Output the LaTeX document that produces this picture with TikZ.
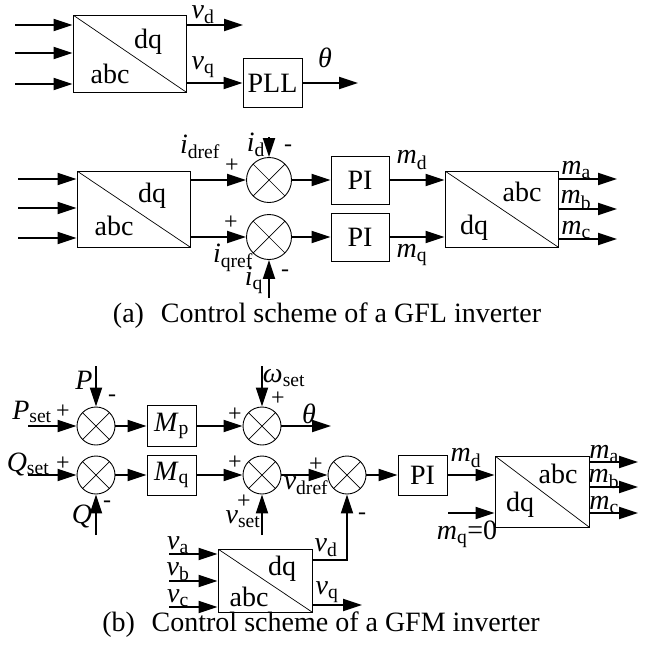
\documentclass[tikz,border=0pt]{standalone}
\usepackage{fontspec}
\setmainfont{Liberation Serif}
\usetikzlibrary{arrows.meta,positioning}
\newcommand{\varsub}[2]{\textit{#1}\textsubscript{#2}}

\begin{document}
\begin{tikzpicture}[x=1pt,y=-1pt,
	font=\fontsize{28}{30}\selectfont,
	sig/.style={line width=2pt,-{Triangle[length=19pt,width=12pt]}},
	blk/.style={draw,line width=0.9pt,inner sep=0pt},
	conv/.style={blk,path picture={\draw[line width=0.7pt] (path picture bounding box.north west) -- (path picture bounding box.south east);}},
	summer/.style={circle,draw,line width=0.9pt,inner sep=0pt,minimum size=#1,
		path picture={\draw[line width=0.7pt] (path picture bounding box.north west) -- (path picture bounding box.south east)
			(path picture bounding box.north east) -- (path picture bounding box.south west);}},
	sgn/.style={inner sep=0pt,font=\fontsize{24}{26}\selectfont}]
	\useasboundingbox (0,0) rectangle (650,649);
	
	% (a) TOP ROW: PLL
	
	\node [conv,minimum width=113pt,minimum height=77pt] at (129.5,53.5) (c1) {};
	\node at (148,42) (c1dq) {dq};
	\node at (110,74) (c1abc) {abc};
	\foreach \y [count=\i] in {25,53,84} {
		\coordinate (ina\i) at (15,\y);
		\draw [sig] (ina\i) -- (ina\i -| c1.west);
	}
	
	\coordinate (vdend) at (243,25);
	\draw [sig] (vdend -| c1.east) -- (vdend);
	\node at (203,15) (vdlab) {\varsub{v}{d}};
	
	\node [blk,minimum width=59pt,minimum height=49pt] at (272.5,83) (pll) {PLL};
	\draw [sig] (pll.west -| c1.east) -- (pll.west);
	\node at (203,67) (vqlab) {\varsub{v}{q}};
	
	\coordinate (thaend) at (358,83);
	\draw [sig] (pll) -- (thaend);
	\node at (325,58) (thalab) {\textit{θ}};
	
	% (a) CURRENT LOOP
	
	\node [conv,minimum width=113pt,minimum height=76pt] at (133.5,209) (c2) {};
	\node at (152,196) (c2dq) {dq};
	\node at (114,226) (c2abc) {abc};
	\foreach \y [count=\i] in {179,208,238} {
		\coordinate (inb\i) at (18,\y);
		\draw [sig] (inb\i) -- (inb\i -| c2.west);
	}
	
	\node [summer=45pt] at (269,180) (s1) {};
	\node [summer=45pt] at (269,237) (s2) {};
	\draw [sig] (c2.east |- s1) -- (s1);
	\draw [sig] (c2.east |- s2) -- (s2);
	
	\coordinate (idtop) at (269,137);
	\draw [sig] (idtop) -- (s1);
	\coordinate (iqbot) at (269,298);
	\draw [sig] (iqbot) -- (s2);
	
	\node at (200,147) (idreflab) {\varsub{i}{dref}};
	\node at (256,145) (idlab) {\varsub{i}{d}};
	\node [sgn] at (232,166) {+};
	\node [sgn] at (288,148) {-};
	\node at (233,258) (iqreflab) {\varsub{i}{qref}};
	\node at (254,280) (iqlab) {\varsub{i}{q}};
	\node [sgn] at (231,223) {+};
	\node [sgn] at (285,273) {-};
	
	\node [blk,minimum width=58pt,minimum height=48pt] at (360,180) (pi1) {PI};
	\node [blk,minimum width=58pt,minimum height=48pt] at (360,237) (pi2) {PI};
	\draw [sig] (s1) -- (pi1);
	\draw [sig] (s2) -- (pi2);
	
	\node [conv,minimum width=113pt,minimum height=76pt] at (501.5,209) (c3) {};
	\node at (522,192) (c3abc) {abc};
	\node at (474,228) (c3dq) {dq};
	\draw [sig] (pi1) -- (pi1 -| c3.west);
	\draw [sig] (pi2) -- (pi2 -| c3.west);
	\node at (412,160) (mdlab) {\varsub{m}{d}};
	\node at (412,255) (mqlab) {\varsub{m}{q}};
	
	\foreach \y/\l [count=\i] in {179/a,209/b,239/c} {
		\coordinate (outa\i) at (617,\y);
		\draw [sig] (outa\i -| c3.east) -- (outa\i);
		\node at (576,\y-9) {\varsub{m}{\l}};
	}
	
	\node at (327,316) (capa) {(a)\hspace{0.6em}Control scheme of a GFL inverter};
	
	% (b) POWER LOOPS
	
	\node [summer=38pt] at (96,426) (sp) {};
	\node [summer=38pt] at (96,475) (sq) {};
	\node [summer=38pt] at (262,426) (sw) {};
	\node [summer=38pt] at (262,475) (sv) {};
	\node [summer=38pt] at (347,475) (s3) {};
	
	\coordinate (pset) at (28,426);
	\coordinate (qset) at (28,475);
	\coordinate (ptop) at (96,366);
	\coordinate (qbot) at (96,535);
	\coordinate (wtop) at (262,366);
	\coordinate (vbot) at (262,535);
	\draw [sig] (pset) -- (sp);
	\draw [sig] (qset) -- (sq);
	\draw [sig] (ptop) -- (sp);
	\draw [sig] (qbot) -- (sq);
	\draw [sig] (wtop) -- (sw);
	\draw [sig] (vbot) -- (sv);
	
	\node [blk,minimum width=49pt,minimum height=41pt] at (171.5,426) (mp) {\varsub{M}{p}};
	\node [blk,minimum width=49pt,minimum height=40pt] at (171.5,475) (mq) {\varsub{M}{q}};
	\draw [sig] (sp) -- (mp);
	\draw [sig] (mp) -- (sw);
	\draw [sig] (sq) -- (mq);
	\draw [sig] (mq) -- (sv);
	\draw [sig] (sv) -- (s3);
	
	\coordinate (thbend) at (331,426);
	\draw [sig] (sw) -- (thbend);
	\node at (309,414) (thblab) {\textit{θ}};
	
	\node at (32,412) (psetlab) {\varsub{P}{set}};
	\node at (28,464) (qsetlab) {\varsub{Q}{set}};
	\node at (84,380) (plab) {\textit{P}};
	\node at (82,516) (qlab) {\textit{Q}};
	\node at (284,378) (wsetlab) {\varsub{ω}{set}};
	\node at (243,519) (vsetlab) {\varsub{v}{set}};
	\node at (306,486) (vdreflab) {\varsub{v}{dref}};
	\node [sgn] at (63,412) {+};
	\node [sgn] at (63,464) {+};
	\node [sgn] at (112,398) {-};
	\node [sgn] at (107,504) {-};
	\node [sgn] at (235,415) {+};
	\node [sgn] at (278,399) {+};
	\node [sgn] at (235,463) {+};
	\node [sgn] at (244,502) {+};
	\node [sgn] at (316,465) {+};
	\node [sgn] at (362,516) {-};
	
	% (b) VOLTAGE AND MODULATION
	
	\node [blk,minimum width=49pt,minimum height=40pt] at (422.5,475) (pi3) {PI};
	\draw [sig] (s3) -- (pi3);
	
	\node [conv,minimum width=94pt,minimum height=71pt] at (542,491.5) (c5) {};
	\node at (558,474) (c5abc) {abc};
	\node at (520,505) (c5dq) {dq};
	\draw [sig] (pi3) -- (pi3 -| c5.west);
	\node at (466,458) (mdblab) {\varsub{m}{d}};
	
	\coordinate (mq0) at (448,513);
	\draw [sig] (mq0) -- (mq0 -| c5.west);
	\node at (467,534) (mq0lab) {\varsub{m}{q}=0};
	
	\foreach \y/\l [count=\i] in {462/a,487/b,513/c} {
		\coordinate (outb\i) at (638,\y);
		\draw [sig] (outb\i -| c5.east) -- (outb\i);
		\node at (604,\y-8) {\varsub{m}{\l}};
	}
	
	\node [conv,minimum width=94pt,minimum height=63pt] at (265,580.5) (c4) {};
	\node at (282,569) (c4dq) {dq};
	\node at (249,597) (c4abc) {abc};
	\foreach \y/\l [count=\i] in {554/a,581/b,607/c} {
		\coordinate (inc\i) at (169,\y);
		\draw [sig] (inc\i) -- (inc\i -| c4.west);
		\node at (178,\y-9) {\varsub{v}{\l}};
	}
	
	\draw [sig] ([yshift=-11pt]c4.north east) -| (s3);
	\node at (326,548) (vdblab) {\varsub{v}{d}};
	
	\coordinate (vqend) at (362,605);
	\draw [sig] (vqend -| c4.east) -- (vqend);
	\node at (327,592) (vqblab) {\varsub{v}{q}};
	
	\node at (321,625) (capb) {(b)\hspace{0.6em}Control scheme of a GFM inverter};
	
\end{tikzpicture}
\end{document}
